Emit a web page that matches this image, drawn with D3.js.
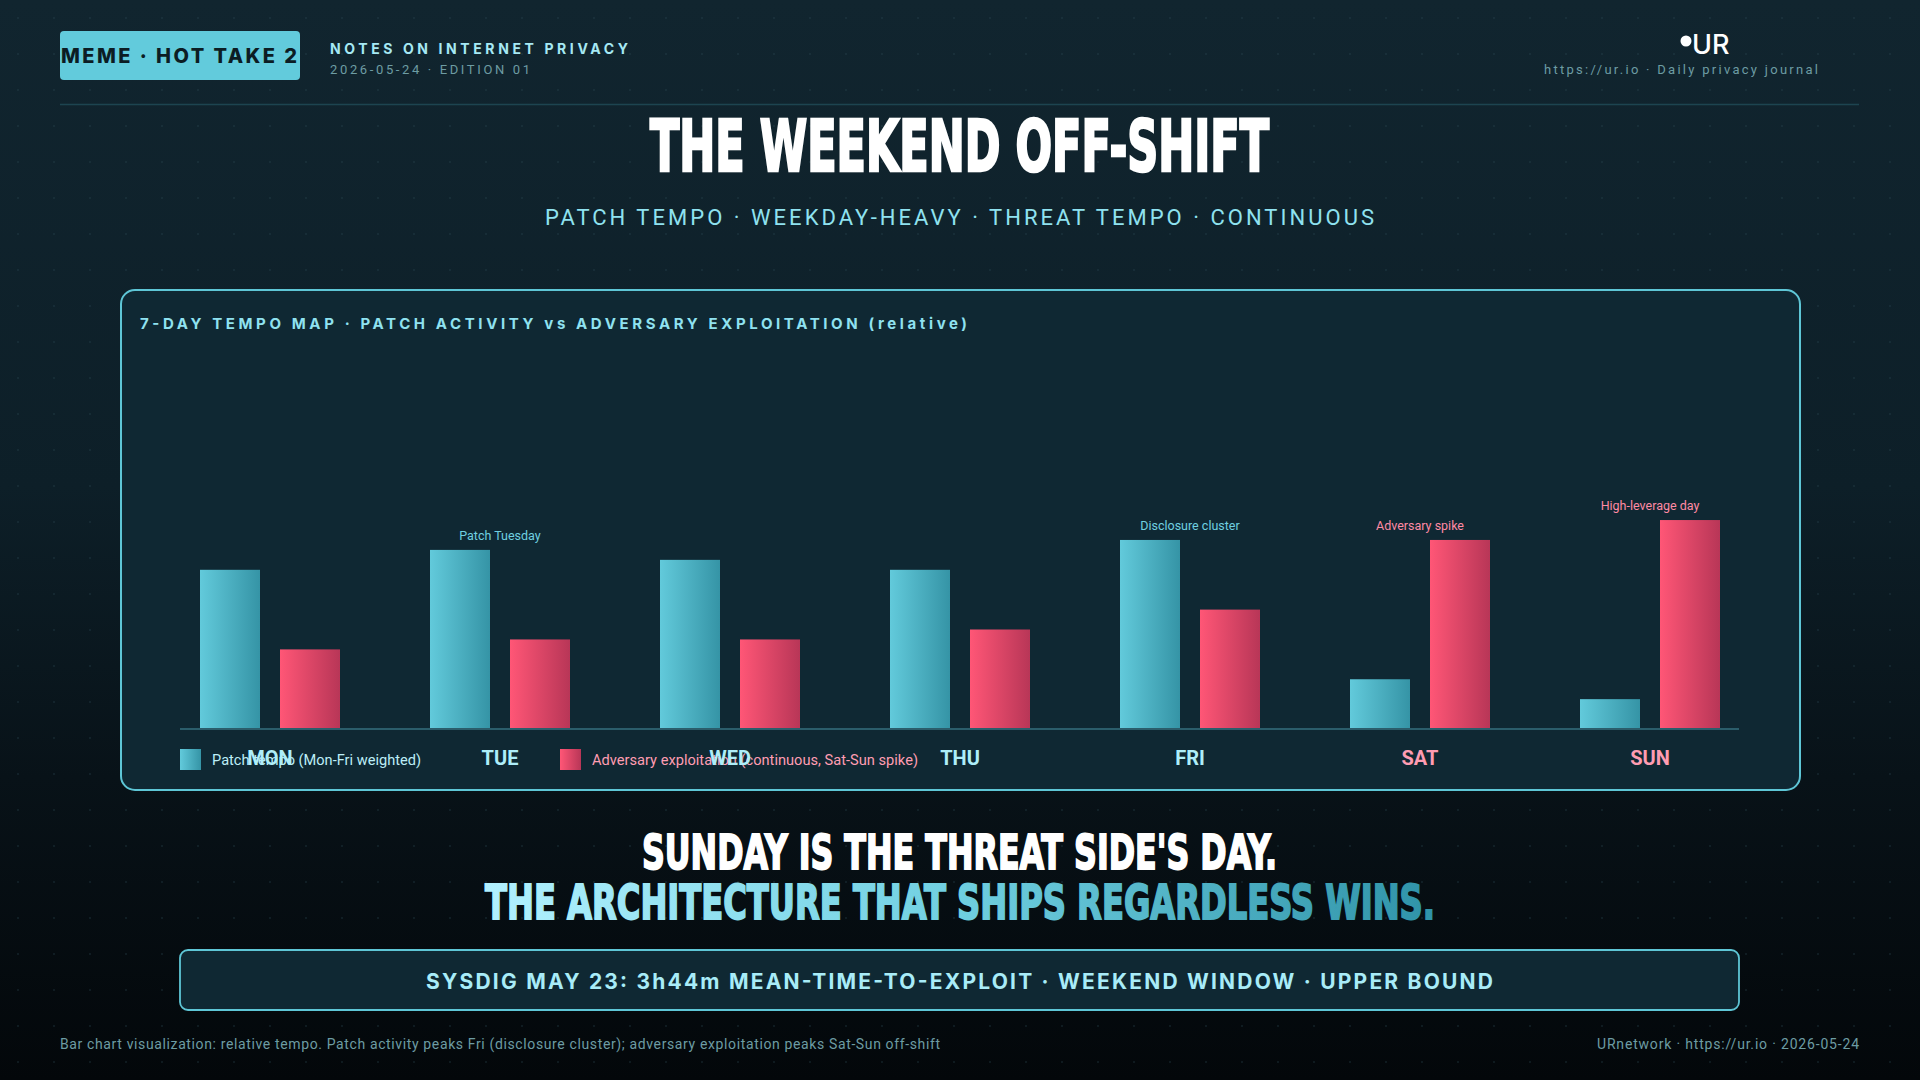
<!DOCTYPE html>
<html><head><meta charset="utf-8">
<script src="https://cdn.jsdelivr.net/npm/d3@7"></script>
<style>
html,body{margin:0;padding:0;background:#060d12;}
svg{display:block;}
</style></head>
<body>
<svg id="chart" width="1920" height="1080"></svg>
<script>
// ---- data ----
const days = ["MON","TUE","WED","THU","FRI","SAT","SUN"];
const patchTempo = [80, 90, 85, 80, 95, 25, 15];
const adversaryTempo = [40, 45, 45, 50, 60, 95, 105];
const annotations = ["", "Patch Tuesday", "", "", "Disclosure cluster", "Adversary spike", "High-leverage day"];
const annotationSide = ["", "patch", "", "", "patch", "adv", "adv"];
const weekend = ["SAT","SUN"];
const seriesKeys = ["patch","adv"];
const legendLabels = ["Patch tempo (Mon-Fri weighted)", "Adversary exploitation (continuous, Sat-Sun spike)"];

const svg = d3.select("#chart");
const defs = svg.append("defs");

// background gradient
const bg = defs.append("linearGradient").attr("id","bg").attr("x1",0).attr("y1",0).attr("x2",0).attr("y2",1);
[["0%","#11252f"],["45%","#0d1f28"],["72%","#081218"],["100%","#03070a"]].forEach(s=>bg.append("stop").attr("offset",s[0]).attr("stop-color",s[1]));
const pat = defs.append("pattern").attr("id","dots").attr("width",36).attr("height",36).attr("patternUnits","userSpaceOnUse");
pat.append("circle").attr("cx",18).attr("cy",18).attr("r",1).attr("fill","#2a4a55").attr("opacity",0.35);

const gP = defs.append("linearGradient").attr("id","gPatch").attr("x1",0).attr("x2",1).attr("y1",0).attr("y2",0);
gP.append("stop").attr("offset","0%").attr("stop-color","#62cadb");
gP.append("stop").attr("offset","100%").attr("stop-color","#3594a6");
const gA = defs.append("linearGradient").attr("id","gAdv").attr("x1",0).attr("x2",1).attr("y1",0).attr("y2",0);
gA.append("stop").attr("offset","0%").attr("stop-color","#ff5676");
gA.append("stop").attr("offset","100%").attr("stop-color","#b83657");
const gH = defs.append("linearGradient").attr("id","gHead").attr("x1",0).attr("x2",1).attr("y1",0).attr("y2",0);
gH.append("stop").attr("offset","0%").attr("stop-color","#b2f1ff");
gH.append("stop").attr("offset","50%").attr("stop-color","#6fcfe0");
gH.append("stop").attr("offset","100%").attr("stop-color","#2f93a8");

svg.append("rect").attr("width",1920).attr("height",1080).attr("fill","url(#bg)");
svg.append("rect").attr("width",1920).attr("height",1080).attr("fill","url(#dots)");

// ---- header ----
svg.append("rect").attr("x",60).attr("y",31).attr("width",240).attr("height",49).attr("rx",4).attr("fill","#62cbdc");
svg.append("text").attr("x",61).attr("y",63).attr("font-family","Inter, Roboto, sans-serif").attr("font-weight",800)
  .attr("font-size",20).attr("fill","#0c1d24").attr("textLength",236).attr("lengthAdjust","spacing").text("MEME · HOT TAKE 2");
svg.append("text").attr("x",330).attr("y",54).attr("font-family","Inter, Roboto, sans-serif").attr("font-weight",700)
  .attr("font-size",14).attr("fill","#a6e9f4").attr("textLength",298).attr("lengthAdjust","spacing").text("NOTES ON INTERNET PRIVACY");
svg.append("text").attr("x",330).attr("y",74).attr("font-family","Roboto, sans-serif")
  .attr("font-size",13).attr("fill","#6d9ca3").attr("textLength",200).attr("lengthAdjust","spacing").text("2026-05-24 · EDITION 01");

svg.append("circle").attr("cx",1686).attr("cy",41).attr("r",5.5).attr("fill","#ffffff");
svg.append("text").attr("x",1692).attr("y",54).attr("font-family","Inter, Roboto, sans-serif").attr("font-weight",500)
  .attr("font-size",27).attr("fill","#ffffff").text("UR");
svg.append("text").attr("x",1818).attr("y",74).attr("text-anchor","end").attr("font-family","Roboto, sans-serif")
  .attr("font-size",13).attr("fill","#6d9ca3").attr("textLength",274).attr("lengthAdjust","spacing").text("https://ur.io · Daily privacy journal");
svg.append("line").attr("x1",60).attr("x2",1859).attr("y1",104.5).attr("y2",104.5).attr("stroke","#1d4450").attr("stroke-width",1.5);

// ---- titles ----
const condensed = "'Liberation Sans Narrow','DejaVu Sans Condensed','Arial Narrow',sans-serif";
svg.append("text").attr("x",650).attr("y",171).attr("font-family",condensed).attr("font-weight",700)
  .attr("font-size",72).attr("fill","#ffffff").attr("stroke","#ffffff").attr("stroke-width",2.6)
  .attr("textLength",619).attr("lengthAdjust","spacingAndGlyphs").text("THE WEEKEND OFF-SHIFT");
svg.append("text").attr("x",545).attr("y",225).attr("font-family","Roboto, sans-serif")
  .attr("font-size",22).attr("fill","#8fe2f0").attr("textLength",829).attr("lengthAdjust","spacing")
  .text("PATCH TEMPO · WEEKDAY-HEAVY · THREAT TEMPO · CONTINUOUS");

// ---- panel ----
svg.append("rect").attr("x",121).attr("y",290).attr("width",1679).attr("height",500).attr("rx",14)
  .attr("fill","#0f2833").attr("stroke","#5ec6d6").attr("stroke-width",2);
svg.append("text").attr("x",140).attr("y",329).attr("font-family","Inter, Roboto, sans-serif").attr("font-weight",700)
  .attr("font-size",15).attr("fill","#8fe2f0").attr("textLength",827).attr("lengthAdjust","spacing")
  .text("7-DAY TEMPO MAP · PATCH ACTIVITY vs ADVERSARY EXPLOITATION (relative)");

// scales
const x = d3.scaleBand().domain(days).range([155, 1765]).padding(0);
const xs = d3.scaleBand().domain(seriesKeys).range([45, 185]).paddingInner(0.25);
const y = d3.scaleLinear().domain([0, 100]).range([729, 530]);

const rows = days.map((d,i)=>({day:d, patch:patchTempo[i], adv:adversaryTempo[i], note:annotations[i], side:annotationSide[i]}));

const plot = svg.append("g");
const groups = plot.selectAll("g.day").data(rows).join("g").attr("class","day")
  .attr("transform", d=>`translate(${x(d.day)},0)`);
groups.selectAll("rect").data(d=>seriesKeys.map(k=>({k, v:d[k]}))).join("rect")
  .attr("x", d=>xs(d.k)).attr("width", xs.bandwidth())
  .attr("y", d=>y(d.v)).attr("height", d=>y(0)-y(d.v))
  .attr("fill", d=>d.k==="patch"?"url(#gPatch)":"url(#gAdv)");

// annotations
groups.filter(d=>d.note).append("text")
  .attr("x", x.bandwidth()/2).attr("y", d=>y(Math.max(d.patch,d.adv))-10)
  .attr("text-anchor","middle").attr("font-family","Roboto, sans-serif").attr("font-size",12.5)
  .attr("fill", d=>d.side==="patch"?"#6fd0e0":"#ff8aa4").text(d=>d.note);

// baseline
plot.append("line").attr("x1",180).attr("x2",1739).attr("y1",729).attr("y2",729).attr("stroke","#2b5d6b").attr("stroke-width",2);

// legend
const legend = svg.append("g").attr("transform","translate(180,749)");
const legItems = legend.selectAll("g").data(seriesKeys).join("g").attr("transform",(d,i)=>`translate(${i*380},0)`);
legItems.append("rect").attr("width",21).attr("height",21).attr("fill",d=>d==="patch"?"url(#gPatch)":"url(#gAdv)");
legItems.append("text").attr("x",32).attr("y",16).attr("font-family","Roboto, sans-serif").attr("font-size",14.5)
  .attr("fill",d=>d==="patch"?"#bdeef7":"#ff9db2")
  .attr("textLength",(d,i)=>i===0?209:326).attr("lengthAdjust","spacingAndGlyphs")
  .text((d,i)=>legendLabels[i]);

// x axis labels
const xAxis = d3.axisBottom(x).tickSize(0).tickPadding(0);
const ax = svg.append("g").attr("transform","translate(0,765)").call(xAxis);
ax.select(".domain").remove();
ax.selectAll("text").attr("dy",0).attr("font-family","Roboto, sans-serif").attr("font-weight",700)
  .attr("font-size",20).attr("fill",d=>weekend.includes(d)?"#ff9cb2":"#aeeef9");

// ---- bottom headline ----
svg.append("text").attr("x",642).attr("y",869).attr("font-family",condensed).attr("font-weight",700)
  .attr("font-size",48).attr("fill","#ffffff").attr("stroke","#ffffff").attr("stroke-width",1.8)
  .attr("textLength",635).attr("lengthAdjust","spacingAndGlyphs").text("SUNDAY IS THE THREAT SIDE'S DAY.");
svg.append("text").attr("x",485).attr("y",919).attr("font-family",condensed).attr("font-weight",700)
  .attr("font-size",48).attr("fill","url(#gHead)").attr("stroke","url(#gHead)").attr("stroke-width",1.8)
  .attr("textLength",950).attr("lengthAdjust","spacingAndGlyphs").text("THE ARCHITECTURE THAT SHIPS REGARDLESS WINS.");

// ---- callout box ----
svg.append("rect").attr("x",180).attr("y",950).attr("width",1559).attr("height",60).attr("rx",8)
  .attr("fill","#0f2833").attr("stroke","#5ec6d6").attr("stroke-width",1.8);
svg.append("text").attr("x",426).attr("y",989).attr("font-family","Inter, Roboto, sans-serif").attr("font-weight",700)
  .attr("font-size",21).attr("fill","#a8ecf8").attr("textLength",1067).attr("lengthAdjust","spacing")
  .text("SYSDIG MAY 23: 3h44m MEAN-TIME-TO-EXPLOIT · WEEKEND WINDOW · UPPER BOUND");

// ---- footer ----
svg.append("text").attr("x",60).attr("y",1049).attr("font-family","Roboto, sans-serif").attr("font-size",14)
  .attr("fill","#6d9ca3").attr("textLength",880).attr("lengthAdjust","spacing")
  .text("Bar chart visualization: relative tempo. Patch activity peaks Fri (disclosure cluster); adversary exploitation peaks Sat-Sun off-shift");
svg.append("text").attr("x",1859).attr("y",1049).attr("text-anchor","end").attr("font-family","Roboto, sans-serif").attr("font-size",14)
  .attr("fill","#6d9ca3").attr("textLength",262).attr("lengthAdjust","spacing").text("URnetwork · https://ur.io · 2026-05-24");
</script>
</body></html>
